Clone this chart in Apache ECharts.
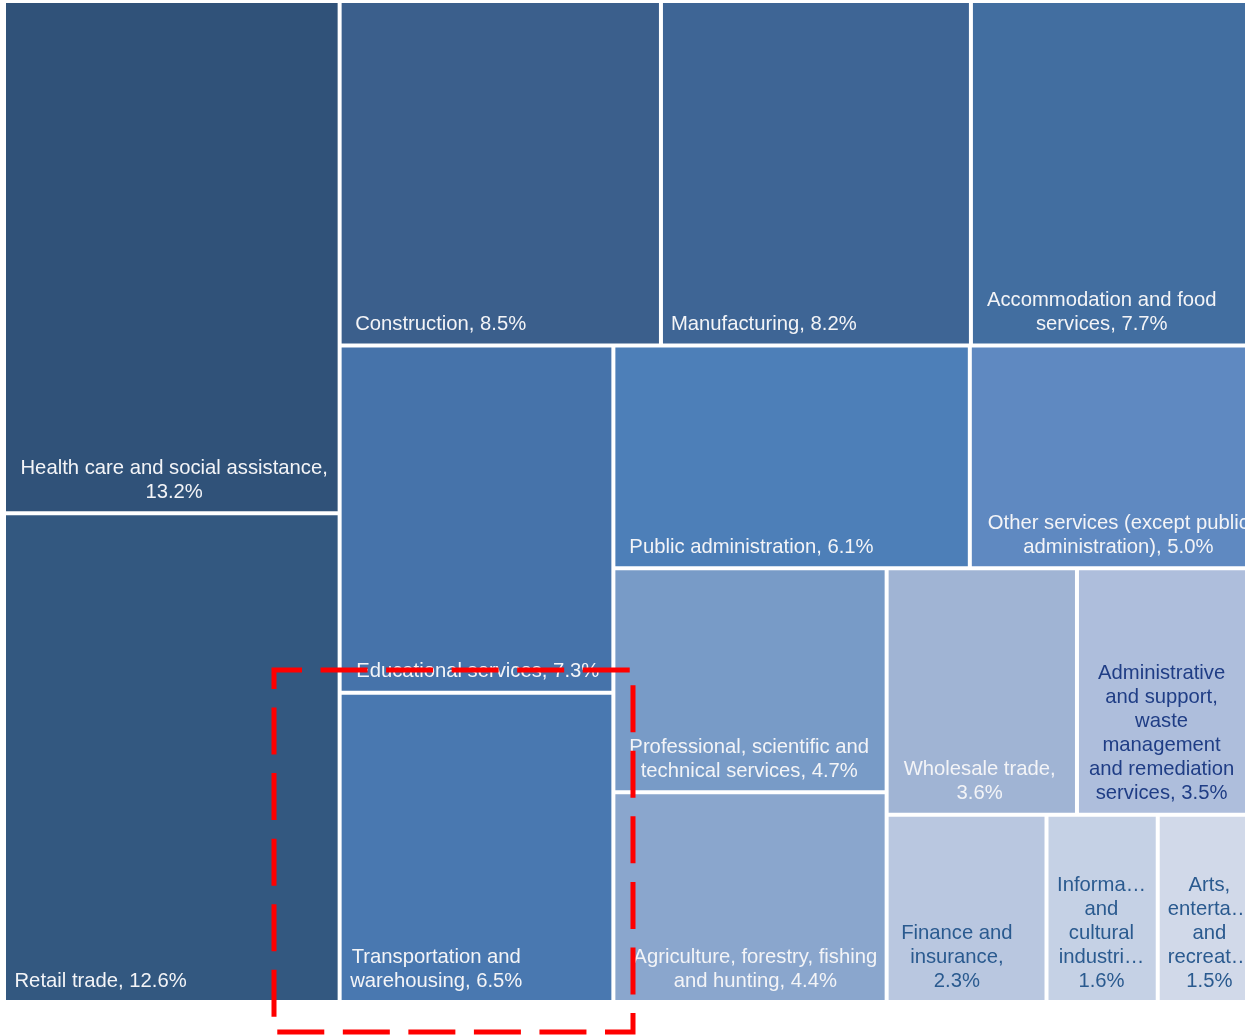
<!DOCTYPE html>
<html>
<head>
<meta charset="utf-8">
<script src="https://cdn.jsdelivr.net/npm/echarts@6/dist/echarts.min.js"></script>
<style>
  html, body { margin: 0; padding: 0; background: #ffffff; }
  #chart { width: 1245px; height: 1035px; }
</style>
</head>
<body>
<div id="chart"></div>
<script>
// ---- data ----
const categories = [
  "Health care and social assistance",
  "Retail trade",
  "Construction",
  "Manufacturing",
  "Accommodation and food services",
  "Educational services",
  "Transportation and warehousing",
  "Public administration",
  "Other services (except public administration)",
  "Professional, scientific and technical services",
  "Agriculture, forestry, fishing and hunting",
  "Wholesale trade",
  "Administrative and support, waste management and remediation services",
  "Finance and insurance",
  "Information and cultural industries",
  "Arts, entertainment and recreation"
];
const shares = [13.2, 12.6, 8.5, 8.2, 7.7, 7.3, 6.5, 6.1, 5.0, 4.7, 4.4, 3.6, 3.5, 2.3, 1.6, 1.5];
// label text as displayed (wrapped / truncated as in the original), value appended
const labelNames = [
  "Health care and social assistance,\n",
  "Retail trade, ",
  "Construction, ",
  "Manufacturing, ",
  "Accommodation and food\nservices, ",
  "Educational services, ",
  "Transportation and\nwarehousing, ",
  "Public administration, ",
  "Other services (except public\nadministration), ",
  "Professional, scientific and\ntechnical services, ",
  "Agriculture, forestry, fishing\nand hunting, ",
  "Wholesale trade,\n",
  "Administrative\nand support,\nwaste\nmanagement\nand remediation\nservices, ",
  "Finance and\ninsurance,\n",
  "Informa\u2026\nand\ncultural\nindustri\u2026\n",
  "Arts,\nenterta\u2026\nand\nrecreat\u2026\n"
];

// ---- styles ----
const cellColors = ["#305279", "#335880", "#3b5f8c", "#3e6595", "#426ea0", "#4673aa", "#4978b0", "#4d7fb8",
  "#5f89c1", "#789bc7", "#8aa6cd", "#a0b4d4", "#aebedc", "#b9c7e0", "#c5d1e5", "#d1d9e9"];
const textColors = ["#f3f4f7", "#f3f4f7", "#f3f4f7", "#f3f4f7", "#f3f4f7", "#f3f4f7", "#f3f4f7", "#f3f4f7",
  "#f3f4f7", "#f3f4f7", "#f3f4f7", "#f3f4f7", "#1f3d85", "#2a5a8f", "#2a5a8f", "#2a5a8f"];
const labelInset = [14.5, 8.5, 13.5, 8, 14, 14.5, 8.5, 14, 16, 14, 18, 15, 10, 12.5, 8.5, 8];

const FONT_FAMILY = '"Liberation Sans", Arial, sans-serif';
const FONT_SIZE = 20.25;
const measure = document.createElement('canvas').getContext('2d');
measure.font = FONT_SIZE + 'px ' + FONT_FAMILY;
function blockWidth(text) {
  return Math.max.apply(null, text.split('\n').map(l => measure.measureText(l).width));
}

const treeData = categories.map((name, i) => {
  const text = labelNames[i] + shares[i].toFixed(1) + '%';
  const w = blockWidth(text);
  return {
    name: name,
    value: shares[i],
    itemStyle: { color: cellColors[i] },
    label: {
      formatter: text,
      color: textColors[i],
      position: [labelInset[i] + w / 2, '100%'],
      align: 'center',
      verticalAlign: 'bottom'
    }
  };
});

const chart = echarts.init(document.getElementById('chart'), null, { renderer: 'canvas' });
chart.setOption({
  animation: false,
  backgroundColor: '#ffffff',
  series: [{
    type: 'treemap',
    left: 6,
    top: 3,
    width: 1254,
    height: 997,
    squareRatio: 1,
    roam: false,
    nodeClick: false,
    breadcrumb: { show: false },
    sort: 'desc',
    label: {
      show: true,
      fontFamily: FONT_FAMILY,
      fontSize: FONT_SIZE,
      lineHeight: 24,
      padding: [0, 0, 7, 0],
      overflow: 'none'
    },
    upperLabel: { show: false },
    itemStyle: { borderWidth: 0 },
    levels: [
      { itemStyle: { gapWidth: 4, borderWidth: 0, borderColor: '#ffffff' } },
      { itemStyle: { borderWidth: 0, gapWidth: 0 } }
    ],
    emphasis: { disabled: true },
    data: treeData
  }],
  graphic: [{
    type: 'rect',
    z: 100,
    shape: { x: 274, y: 670, width: 359, height: 362 },
    style: {
      fill: 'none',
      stroke: '#ff0000',
      lineWidth: 5,
      lineDash: [47, 18.545],
      lineDashOffset: 19
    }
  }]
});
</script>
</body>
</html>
